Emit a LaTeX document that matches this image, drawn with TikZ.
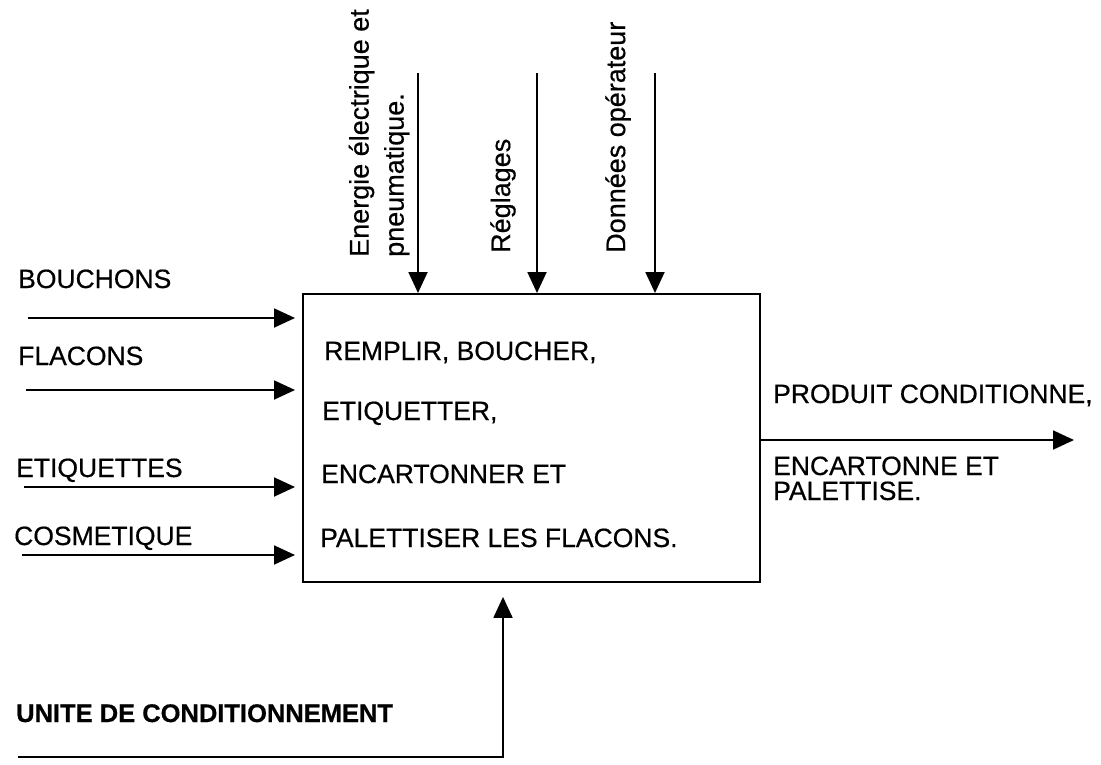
\documentclass[tikz,border=0pt]{standalone}
\usepackage{fontspec}
\setmainfont{Liberation Sans}[FakeBold=0.5]
\usetikzlibrary{arrows.meta}
\begin{document}
\begin{tikzpicture}[x=1pt,y=-1pt,
  lbl/.style={inner sep=0pt, anchor=base west, font=\fontsize{26.5}{31}\selectfont},
  vlbl/.style={inner sep=0pt, rotate=90, anchor=west, font=\fontsize{27}{35}\selectfont, align=left},
  arr/.style={line width=1.9pt, -{Triangle[length=21pt,width=19pt]}},
  blk/.style={draw, line width=1.9pt, inner sep=0pt, anchor=north west, minimum width=457pt, minimum height=288pt}]
\useasboundingbox (0,0) rectangle (1101,764);
\node[blk] (box) at (302,293) {};
% box text
\node[lbl] (t1) at (324,360) {REMPLIR, BOUCHER,};
\node[lbl] (t2) at (322,420) {ETIQUETTER,};
\node[lbl] (t3) at (321,483) {ENCARTONNER ET};
\node[lbl] (t4) at (320,547) {PALETTISER LES FLACONS.};
% left inputs
\node[lbl] (l1) at (18,288) {BOUCHONS};
\node[lbl] (l2) at (18,365) {FLACONS};
\node[lbl] (l3) at (16,477) {ETIQUETTES};
\node[lbl] (l4) at (14,545) {COSMETIQUE};
\coordinate (i1) at (28,318);
\coordinate (i2) at (26,390);
\coordinate (i3) at (24,487);
\coordinate (i4) at (22,555);
\foreach \c in {i1,i2,i3,i4}{
  \draw[arr, shorten >=7pt] (\c) -- (\c -| box.west);
}
% top controls
\node[vlbl] (c1) at (379,257) {Energie électrique et\\pneumatique.};
\node[vlbl] (c2) at (503,253) {Réglages};
\node[vlbl] (c3) at (618,253) {Données opérateur};
\coordinate (a1) at (418,73);
\coordinate (a2) at (537,73);
\coordinate (a3) at (655,73);
\foreach \c in {a1,a2,a3}{
  \draw[arr] (\c) -- (\c |- box.north);
}
% output
\coordinate (o0) at (759,440);
\coordinate (o1) at (1074,440);
\draw[arr] (o0 -| box.east) -- (o1);
\node[lbl] (r1) at (773,403) {PRODUIT CONDITIONNE,};
\node[lbl] (r2) at (773,475) {ENCARTONNE ET};
\node[lbl] (r3) at (773,500) {PALETTISE.};
% mechanism
\node[lbl, font=\fontsize{25.5}{30}\selectfont\bfseries] (m) at (16,722) {UNITE DE CONDITIONNEMENT};
\coordinate (u0) at (18,757);
\coordinate (u1) at (503,757);
\draw[arr, shorten >=14pt] (u0) -- (u1) -- (u1 |- box.south);
\end{tikzpicture}
\end{document}
